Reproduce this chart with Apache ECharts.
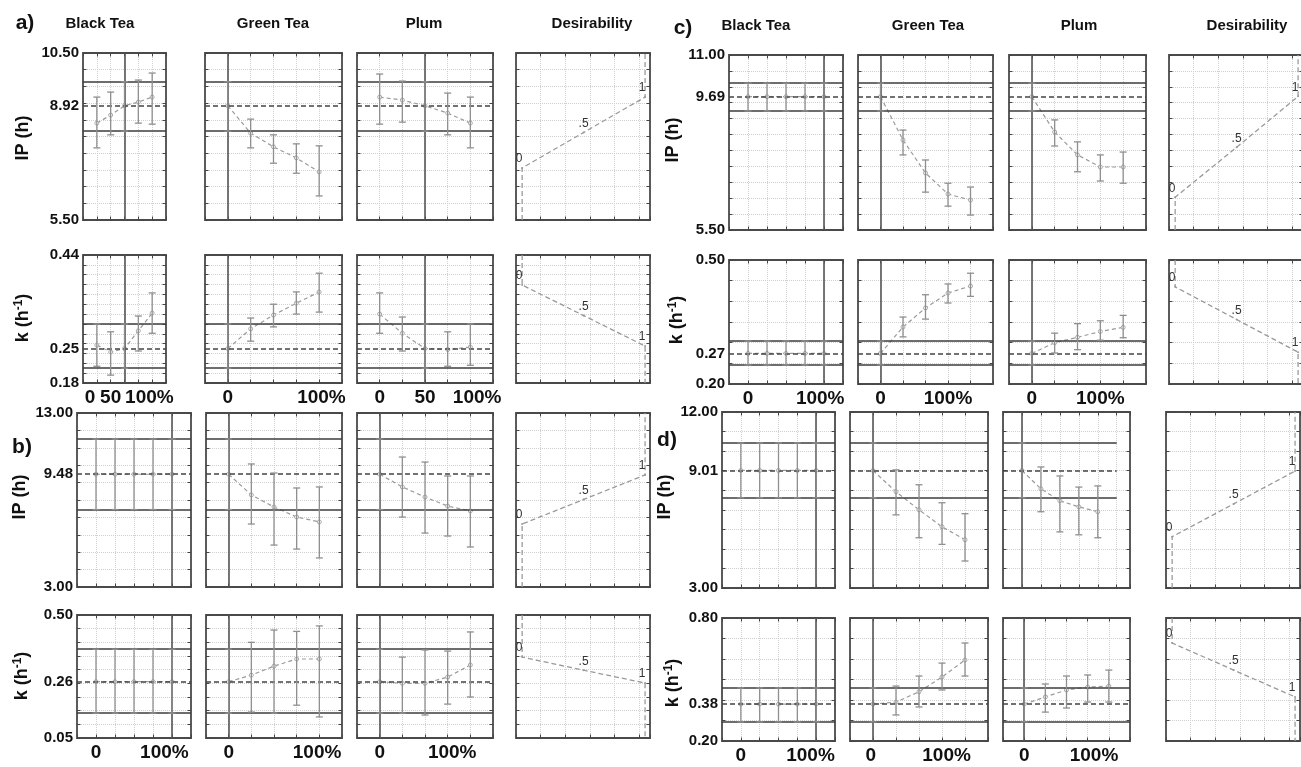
<!DOCTYPE html>
<html>
<head>
<meta charset="utf-8">
<script src="https://cdn.jsdelivr.net/npm/echarts@6/dist/echarts.min.js"></script>
<style>
  html, body { margin: 0; padding: 0; background: #fff; }
  #chart { width: 1301px; height: 767px; }
</style>
</head>
<body>
<div id="chart"></div>
<script>
// levels 0%, 25%, 50%, 75%, 100% sit at positions 1..5 of each small profile
const levels = [1, 2, 3, 4, 5];
const factorNames = ['Black Tea', 'Green Tea', 'Plum'];
const panelNames = ['a)', 'b)', 'c)', 'd)'];

// rows: Black Tea, Green Tea, Plum
const ipMeanA = [[8.40, 8.64, 8.92, 9.03, 9.18], [8.92, 8.10, 7.69, 7.36, 6.94], [9.18, 9.09, 8.92, 8.70, 8.40]];
const ipLowA = [[7.66, 8.05, 8.16, 8.40, 8.37], [8.16, 7.66, 7.20, 6.90, 6.22], [8.37, 8.43, 8.16, 8.05, 7.66]];
const ipHighA = [[9.18, 9.33, 9.64, 9.69, 9.90], [9.64, 8.52, 8.05, 7.78, 7.72], [9.87, 9.66, 9.64, 9.30, 9.18]];
const kMeanA = [[0.257, 0.243, 0.25, 0.286, 0.322], [0.25, 0.29, 0.318, 0.342, 0.365], [0.32, 0.281, 0.25, 0.248, 0.253]];
const kLowA = [[0.214, 0.196, 0.21, 0.245, 0.281], [0.21, 0.265, 0.294, 0.32, 0.324], [0.281, 0.245, 0.21, 0.214, 0.216]];
const kHighA = [[0.300, 0.284, 0.30, 0.316, 0.363], [0.30, 0.312, 0.34, 0.365, 0.403], [0.363, 0.314, 0.30, 0.284, 0.300]];

const ipMeanB = [[9.48, 9.48, 9.48, 9.48, 9.48], [9.48, 8.29, 7.60, 7.02, 6.74], [9.48, 8.75, 8.17, 7.65, 7.37]];
const ipLowB = [[7.45, 7.45, 7.45, 7.45, 7.45], [7.45, 6.62, 5.41, 5.18, 4.67], [7.45, 7.02, 6.10, 5.93, 5.30]];
const ipHighB = [[11.51, 11.51, 11.51, 11.51, 11.51], [11.51, 10.07, 9.55, 8.69, 8.75], [11.51, 10.47, 10.18, 9.38, 9.38]];
const kMeanB = [[0.256, 0.256, 0.256, 0.256, 0.256], [0.256, 0.28, 0.313, 0.339, 0.339], [0.256, 0.25, 0.25, 0.273, 0.317]];
const kLowB = [[0.141, 0.141, 0.141, 0.141, 0.141], [0.141, 0.145, 0.141, 0.17, 0.127], [0.141, 0.141, 0.134, 0.174, 0.20]];
const kHighB = [[0.375, 0.375, 0.375, 0.375, 0.375], [0.375, 0.40, 0.445, 0.44, 0.46], [0.375, 0.346, 0.372, 0.368, 0.438]];

const ipMeanC = [[9.69, 9.69, 9.69, 9.69, 9.69], [9.69, 8.33, 7.29, 6.63, 6.44], [9.69, 8.58, 7.86, 7.48, 7.48]];
const ipLowC = [[9.24, 9.24, 9.24, 9.24, 9.24], [9.24, 7.86, 6.69, 6.25, 5.97], [9.24, 8.14, 7.33, 7.04, 6.97]];
const ipHighC = [[10.12, 10.12, 10.12, 10.12, 10.12], [10.12, 8.64, 7.70, 6.97, 6.85], [10.12, 8.96, 8.27, 7.86, 7.95]];
const kMeanC = [[0.274, 0.274, 0.274, 0.274, 0.274], [0.274, 0.338, 0.384, 0.42, 0.437], [0.274, 0.30, 0.313, 0.327, 0.337]];
const kLowC = [[0.246, 0.246, 0.246, 0.246, 0.246], [0.246, 0.314, 0.357, 0.396, 0.412], [0.246, 0.275, 0.283, 0.306, 0.312]];
const kHighC = [[0.304, 0.304, 0.304, 0.304, 0.304], [0.304, 0.362, 0.416, 0.442, 0.468], [0.304, 0.323, 0.346, 0.353, 0.366]];

const ipMeanD = [[9.01, 9.01, 9.01, 9.01, 9.01], [9.01, 7.92, 7.00, 6.13, 5.47], [9.01, 8.07, 7.46, 7.15, 6.90]];
const ipLowD = [[7.61, 7.61, 7.61, 7.61, 7.61], [7.61, 6.74, 5.57, 5.23, 4.38], [7.61, 6.90, 5.87, 5.72, 5.57]];
const ipHighD = [[10.42, 10.42, 10.42, 10.42, 10.42], [10.42, 9.04, 8.28, 7.36, 6.80], [10.42, 9.19, 8.73, 8.16, 8.22]];
const kMeanD = [[0.38, 0.38, 0.38, 0.38, 0.38], [0.38, 0.39, 0.44, 0.512, 0.595], [0.38, 0.415, 0.449, 0.463, 0.468]];
const kLowD = [[0.293, 0.293, 0.293, 0.293, 0.293], [0.293, 0.327, 0.366, 0.449, 0.517], [0.293, 0.341, 0.361, 0.39, 0.39]];
const kHighD = [[0.459, 0.459, 0.459, 0.459, 0.459], [0.459, 0.468, 0.517, 0.58, 0.678], [0.459, 0.478, 0.517, 0.522, 0.546]];

// predicted value and its confidence limits at the current settings, per panel a..d
const ipPred = [8.92, 9.48, 9.69, 9.01];
const ipCi = [[8.16, 9.64], [7.45, 11.51], [9.24, 10.12], [7.61, 10.42]];
const kPred = [0.25, 0.256, 0.274, 0.38];
const kCi = [[0.21, 0.30], [0.141, 0.375], [0.246, 0.304], [0.293, 0.459]];
const currentLevel = [[3, 1, 3], [5, 1, 1], [5, 1, 1], [5, 1, 1]];

// axis ranges
const ipMin = [5.5, 3, 5.5, 3];
const ipMax = [10.5, 13, 11, 12];
const ipStep = [0.5, 1, 0.5, 1];
const kMin = [0.18, 0.05, 0.20, 0.20];
const kMax = [0.44, 0.50, 0.50, 0.80];
const kStep = [0.02, 0.05, 0.05, 0.1];

// desirability profiles: response value where desirability is 0, .5 and 1
const desireLevels = [0, 0.5, 1];
const desireText = ['0', '.5', '1'];
const ipDesire = [[7.06, 8.12, 9.18], [6.62, 8.03, 9.44], [6.53, 8.10, 9.70], [5.62, 7.30, 8.98]];
const kDesire = [[0.379, 0.317, 0.255], [0.346, 0.298, 0.251], [0.435, 0.356, 0.277], [0.678, 0.546, 0.415]];

// x tick labels under the k row (where the original printed them)
const xTickPos = [
  [[0.5, 2.0, 4.8], [1, 5.1], [1, 3, 5.3]],
  [[1, 4.6], [1, 4.9], [1, 4.2]],
  [[1, 4.8], [1, 4], [1, 4]],
  [[1, 4.7], [0.9, 4.2], [1, 4.3]]
];
const xTickText3 = ['0', '50', '100%'];
const xTickText2 = ['0', '100%'];

// layout (pixels)
const colX = [
  [[83, 166], [205, 342], [357, 493], [516, 650]],
  [[77, 191], [206, 342], [357, 493], [516, 650]],
  [[729, 843], [858, 993], [1009, 1146], [1169, 1303]],
  [[722, 835], [850, 988], [1003, 1130], [1166, 1300]]
];
const rowY = [[[53, 220], [255, 383]], [[413, 587], [615, 738]], [[55, 230], [260, 384]], [[412, 588], [618, 741]]];
const titlePos = [[25, 23, [100, 273, 424, 592], 24], [22, 447, null, 0], [683, 28, [756, 928, 1079, 1247], 26], [667, 440, null, 0]];
const namePos = [[[23, 138], [23, 318]], [[20, 497], [22, 676]], [[673, 140], [677, 320]], [[665, 497], [673, 683]]];

const ipMean = [ipMeanA, ipMeanB, ipMeanC, ipMeanD];
const ipLow = [ipLowA, ipLowB, ipLowC, ipLowD];
const ipHigh = [ipHighA, ipHighB, ipHighC, ipHighD];
const kMean = [kMeanA, kMeanB, kMeanC, kMeanD];
const kLow = [kLowA, kLowB, kLowC, kLowD];
const kHigh = [kHighA, kHighB, kHighC, kHighD];

const FONT = '"Liberation Sans", Arial, sans-serif';

const grids = [], xAxes = [], yAxes = [], series = [], graphics = [];

function errorBar(params, api) {
  const x = api.value(0);
  const lo = api.coord([x, api.value(1)]);
  const hi = api.coord([x, api.value(2)]);
  const w = 3.5;
  const style = { stroke: '#8f8f8f', lineWidth: 1.3 };
  return {
    type: 'group',
    children: [
      { type: 'line', shape: { x1: lo[0], y1: lo[1], x2: hi[0], y2: hi[1] }, style },
      { type: 'line', shape: { x1: lo[0] - w, y1: lo[1], x2: lo[0] + w, y2: lo[1] }, style },
      { type: 'line', shape: { x1: hi[0] - w, y1: hi[1], x2: hi[0] + w, y2: hi[1] }, style }
    ]
  };
}

// ticks point into the frame on all four sides; onZero off so the
// mirrored axes stay on the right / top edge
const tickStyle = () => ({ show: true, inside: true, length: 3.5, lineStyle: { color: '#444', width: 1 } });
const noLine = () => ({ show: false, onZero: false });

function addCell(box, x, y, xLabels, yLabels) {
  const g = grids.length;
  grids.push({
    left: box[0], top: box[2], width: box[1] - box[0], height: box[3] - box[2],
    show: true, borderColor: '#4a4a4a', borderWidth: 1.8, backgroundColor: '#fff',
    containLabel: false, outerBoundsMode: 'none', z: 0
  });
  const split = () => ({ show: true, showMinLine: false, showMaxLine: false, lineStyle: { color: '#d0d0d0', type: 'dotted', width: 1 } });
  const xi = xAxes.length;
  xAxes.push({
    type: 'value', gridIndex: g, position: 'bottom', min: x.min, max: x.max, interval: x.step,
    axisLine: noLine(), axisTick: tickStyle(), splitLine: split(),
    axisLabel: xLabels ? {
      show: true, customValues: xLabels.pos, margin: 5, hideOverlap: false,
      showMinLabel: true, showMaxLabel: true,
      formatter: v => xLabels.text[xLabels.pos.indexOf(v)],
      fontFamily: FONT, fontWeight: 'bold', fontSize: 19, color: '#111'
    } : { show: false }
  });
  xAxes.push({
    type: 'value', gridIndex: g, position: 'top', min: x.min, max: x.max, interval: x.step,
    axisLine: noLine(), axisTick: tickStyle(), splitLine: { show: false }, axisLabel: { show: false }
  });
  const yi = yAxes.length;
  yAxes.push({
    type: 'value', gridIndex: g, position: 'left', min: y.min, max: y.max, interval: y.step,
    axisLine: noLine(), axisTick: tickStyle(), splitLine: split(),
    axisLabel: yLabels ? {
      show: true, customValues: yLabels, margin: 4, hideOverlap: false,
      formatter: v => v.toFixed(2),
      fontFamily: FONT, fontWeight: 'bold', fontSize: 15, color: '#111'
    } : { show: false }
  });
  yAxes.push({
    type: 'value', gridIndex: g, position: 'right', min: y.min, max: y.max, interval: y.step,
    axisLine: noLine(), axisTick: tickStyle(), splitLine: { show: false }, axisLabel: { show: false }
  });
  return [xi, yi];
}

// horizontal reference line across the profile range 0..6
function hLine(v, style) {
  return [{ coord: [0, v], lineStyle: style }, { coord: [6, v] }];
}

for (let p = 0; p < 4; p++) {
  for (let r = 0; r < 2; r++) {
    const isIp = r === 0;
    const yMin = isIp ? ipMin[p] : kMin[p];
    const yMax = isIp ? ipMax[p] : kMax[p];
    const yStep = isIp ? ipStep[p] : kStep[p];
    const pred = isIp ? ipPred[p] : kPred[p];
    const ci = isIp ? ipCi[p] : kCi[p];
    const mean = isIp ? ipMean[p] : kMean[p];
    const low = isIp ? ipLow[p] : kLow[p];
    const high = isIp ? ipHigh[p] : kHigh[p];
    const [top, bottom] = rowY[p][r];

    for (let f = 0; f < 3; f++) {
      const [left, right] = colX[p][f];
      // the Plum IP frame in d) is drawn wider than its plotting range
      const xMax = (p === 3 && r === 0 && f === 2) ? 6.7 : 6;
      const pos = xTickPos[p][f];
      const xLabels = r === 1 ? { pos, text: pos.length === 3 ? xTickText3 : xTickText2 } : null;
      const yLabels = f === 0 ? [yMin, pred, yMax] : null;
      const [xi, yi] = addCell([left, right, top, bottom], { min: 0, max: xMax, step: 1 },
        { min: yMin, max: yMax, step: yStep }, xLabels, yLabels);

      const solid = { color: '#3c3c3c', width: 1.5, type: 'solid' };
      series.push({
        type: 'line', xAxisIndex: xi, yAxisIndex: yi,
        data: levels.map((lv, i) => [lv, mean[f][i]]),
        lineStyle: { color: '#9a9a9a', width: 1.2, type: [4, 3] },
        symbol: 'circle', symbolSize: 4, showSymbol: true,
        itemStyle: { color: '#fff', borderColor: '#aaa', borderWidth: 1 },
        silent: true, animation: false, z: 4,
        markLine: {
          silent: true, symbol: 'none', animation: false, label: { show: false },
          data: [
            hLine(ci[0], solid),
            hLine(ci[1], solid),
            hLine(pred, { color: '#444', width: 1.5, type: [5, 3] }),
            { xAxis: currentLevel[p][f], lineStyle: { color: '#555', width: 1.6, type: 'solid' } }
          ]
        }
      });
      series.push({
        type: 'custom', xAxisIndex: xi, yAxisIndex: yi, renderItem: errorBar,
        encode: { x: 0, y: [1, 2] }, silent: true, animation: false, z: 5,
        data: levels.map((lv, i) => [lv, low[f][i], high[f][i]])
      });
    }

    // desirability profile
    const [dl, dr] = colX[p][3];
    const [dxi, dyi] = addCell([dl, dr, top, bottom], { min: -0.05, max: 1.04, step: 0.2 },
      { min: yMin, max: yMax, step: yStep }, null, null);
    const d = isIp ? ipDesire[p] : kDesire[p];
    const ends = isIp ? [yMin, yMax] : [yMax, yMin];
    const pts = [{ value: [desireLevels[0], ends[0]], symbol: 'none' }];
    desireLevels.forEach((lv, i) => pts.push({
      value: [lv, d[i]],
      label: {
        show: true, formatter: desireText[i], position: 'top', distance: 2,
        offset: [i === 1 ? 0 : -3, 0], fontSize: 12, color: '#333', fontFamily: FONT
      }
    }));
    pts.push({ value: [desireLevels[2], ends[1]], symbol: 'none' });
    series.push({
      type: 'line', xAxisIndex: dxi, yAxisIndex: dyi, data: pts,
      lineStyle: { color: '#9a9a9a', width: 1.3, type: [5, 3] },
      symbol: 'circle', symbolSize: 2, itemStyle: { color: '#999' },
      silent: true, animation: false, z: 4
    });
  }

  // texts
  const tp = titlePos[p];
  graphics.push({
    type: 'text', x: tp[0], y: tp[1],
    style: { text: panelNames[p], font: 'bold 21px ' + FONT, fill: '#111', align: 'center', verticalAlign: 'middle' }
  });
  if (tp[2]) {
    tp[2].forEach((cx, i) => graphics.push({
      type: 'text', x: cx, y: tp[3],
      style: { text: i < 3 ? factorNames[i] : 'Desirability', font: 'bold 15px ' + FONT, fill: '#111', align: 'center', verticalAlign: 'middle' }
    }));
  }
  graphics.push({
    type: 'text', x: namePos[p][0][0], y: namePos[p][0][1], rotation: Math.PI / 2,
    style: { text: 'IP (h)', font: 'bold 18px ' + FONT, fill: '#111', align: 'center', verticalAlign: 'middle' }
  });
  graphics.push({
    type: 'text', x: namePos[p][1][0], y: namePos[p][1][1], rotation: Math.PI / 2,
    style: {
      text: 'k (h{s|-1})', font: 'bold 18px ' + FONT, fill: '#111', align: 'center', verticalAlign: 'middle',
      rich: { s: { fontSize: 12, fontWeight: 'bold', fontFamily: FONT, verticalAlign: 'top', padding: [0, 0, 8, 0] } }
    }
  });
}

const chart = echarts.init(document.getElementById('chart'));
chart.setOption({
  backgroundColor: '#fff',
  animation: false,
  grid: grids,
  xAxis: xAxes,
  yAxis: yAxes,
  series: series,
  graphic: graphics
});
</script>
</body>
</html>
